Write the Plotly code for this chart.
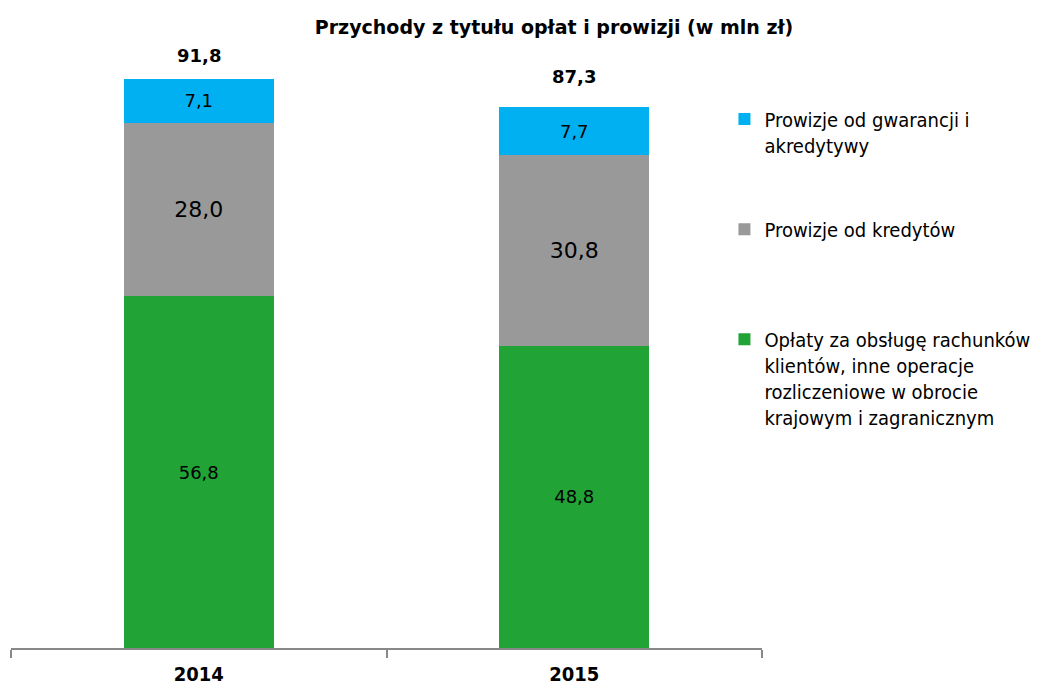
import plotly.graph_objects as go

years = ["2014", "2015"]
oplaty = [56.8, 48.8]
kredyty = [28.0, 30.8]
gwarancje = [7.1, 7.7]
totals = [91.8, 87.3]

names = [
    "Opłaty za obsługę rachunków<br>klientów, inne operacje<br>rozliczeniowe w obrocie<br>krajowym i zagranicznym",
    "Prowizje od kredytów",
    "Prowizje od gwarancji i<br>akredytywy",
]
colors = ["#21A336", "#999999", "#00B0F0"]
label_sizes = [18, 22, 18]
legend_ids = ["legend3", "legend2", "legend"]
legend_y = [0.54, 0.721, 0.902]
FONT = "DejaVu Sans, sans-serif"
LFONT = "DejaVu Sans Condensed, DejaVu Sans, sans-serif"

fig = go.Figure()
for vals, name, col, ls, lid in zip([oplaty, kredyty, gwarancje], names, colors, label_sizes, legend_ids):
    fig.add_trace(go.Bar(
        x=years, y=vals, name=name, marker=dict(color=col, line=dict(width=0)),
        texttemplate="%{y:.1f}", textposition="inside", insidetextanchor="middle",
        textangle=0, constraintext="none",
        textfont=dict(color="#000000", size=ls, family=FONT),
        legend=lid,
    ))

for i, tot in enumerate(totals):
    fig.add_annotation(x=i, y=tot, text="<b>" + f"{tot:.1f}".replace(".", ",") + "</b>",
                       showarrow=False, yanchor="bottom", yshift=12 + 6 * i,
                       font=dict(size=18, color="#000000", family=FONT))

leg_common = dict(x=0.95, xanchor="left", yanchor="top", valign="top",
                  itemwidth=30, font=dict(size=20, family=LFONT, color="#000000"),
                  bgcolor="rgba(0,0,0,0)")
fig.update_layout(
    barmode="stack", bargap=0.6, separators=", ",
    width=1043, height=686, plot_bgcolor="white", paper_bgcolor="white",
    margin=dict(l=3, r=289, t=32, b=46, autoexpand=False),
    font=dict(family=FONT, color="#000000"),
    title=dict(text="<b>Przychody z tytułu opłat i prowizji (w mln zł)</b>",
               x=0.5235, xanchor="center", y=0.972, yanchor="middle",
               font=dict(size=19, family=FONT)),
    legend=dict(y=legend_y[2], **leg_common),
    legend2=dict(y=legend_y[1], **leg_common),
    legend3=dict(y=legend_y[0], **leg_common),
    showlegend=True,
)
fig.update_xaxes(type="category", range=[-0.5, len(years) - 0.5],
                 showline=True, linecolor="#888888", linewidth=1.5,
                 ticks="outside", ticklen=8, tickcolor="#888888", tickwidth=1.5,
                 tickson="boundaries", ticklabelstandoff=7,
                 tickfont=dict(size=20, family=LFONT, color="#000000"),
                 tickprefix="<b>", ticksuffix="</b>")
fig.update_yaxes(range=[0, 98.2], visible=False, showgrid=False)

fig.write_html("out.html")
